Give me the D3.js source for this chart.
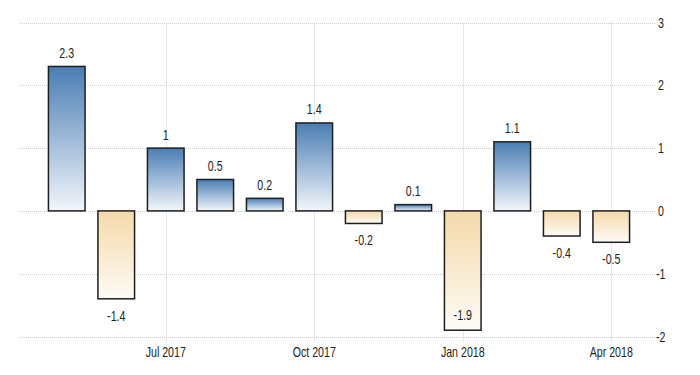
<!DOCTYPE html>
<html>
<head>
<meta charset="utf-8">
<script src="https://cdn.jsdelivr.net/npm/d3@7"></script>
<style>
  body { margin: 0; background: #fff; }
  svg text { font-family: "Liberation Sans", Arial, sans-serif; font-size: 14px; fill: #222; }
</style>
</head>
<body>
<div id="chart"></div>
<script>
var width = 700,
    height = 375,
    squeeze = 0.76; // reference uses a narrow face

// monthly change, May 2017 .. Apr 2018
var months = ['May 2017','Jun 2017','Jul 2017','Aug 2017','Sep 2017','Oct 2017',
              'Nov 2017','Dec 2017','Jan 2018','Feb 2018','Mar 2018','Apr 2018'];
var values = [2.3, -1.4, 1, 0.5, 0.2, 1.4, -0.2, 0.1, -1.9, 1.1, -0.4, -0.5];
var xTickLabels = ['Jul 2017', 'Oct 2017', 'Jan 2018', 'Apr 2018'];
var yTicks = [-2, -1, 0, 1, 2, 3];

var svg = d3.select("#chart").append("svg")
    .attr("width", width)
    .attr("height", height);

var defs = svg.append("defs");
var gradUp = defs.append("linearGradient")
    .attr("id", "gradUp")
    .attr("x1", 0).attr("y1", 0).attr("x2", 0).attr("y2", 1);
gradUp.append("stop").attr("offset", "0%").attr("stop-color", "#4a7db3");
gradUp.append("stop").attr("offset", "100%").attr("stop-color", "#f2f6fb");

var gradDown = defs.append("linearGradient")
    .attr("id", "gradDown")
    .attr("x1", 0).attr("y1", 0).attr("x2", 0).attr("y2", 1);
gradDown.append("stop").attr("offset", "0%").attr("stop-color", "#f4d9a9");
gradDown.append("stop").attr("offset", "100%").attr("stop-color", "#fefbf6");

var x = d3.scaleBand()
    .domain(months)
    .range([42, 636])
    .paddingInner(0.26)
    .paddingOuter(0.13);

var y = d3.scaleLinear()
    .domain([-2, 3])
    .range([336.5, 22.5]);

function place(tx, ty) {
  return "translate(" + tx + "," + ty + ") scale(" + squeeze + ",1)";
}

// horizontal grid
svg.append("g")
  .selectAll("line")
  .data(yTicks)
  .enter().append("line")
    .attr("x1", 20)
    .attr("x2", 655)
    .attr("y1", function(d) { return Math.round(y(d)) + 0.5; })
    .attr("y2", function(d) { return Math.round(y(d)) + 0.5; })
    .attr("stroke", "#cfcfcf")
    .attr("stroke-dasharray", "1,1");

// vertical grid at labelled months
svg.append("g")
  .selectAll("line")
  .data(xTickLabels)
  .enter().append("line")
    .attr("x1", function(d) { return Math.round(x(d) + x.bandwidth() / 2) + 0.5; })
    .attr("x2", function(d) { return Math.round(x(d) + x.bandwidth() / 2) + 0.5; })
    .attr("y1", y(3))
    .attr("y2", y(-2) + 6)
    .attr("stroke", "#cfcfcf")
    .attr("stroke-dasharray", "1,1");

// y axis labels on the right
svg.append("g")
  .selectAll("text")
  .data(yTicks)
  .enter().append("text")
    .attr("transform", function(d) { return place(d < 0 ? 656 : 658, y(d) + 5); })
    .text(function(d) { return d; });

// x axis labels
svg.append("g")
  .selectAll("text")
  .data(xTickLabels)
  .enter().append("text")
    .attr("transform", function(d) { return place(x(d) + x.bandwidth() / 2, 356.5); })
    .attr("text-anchor", "middle")
    .text(function(d) { return d; });

var data = months.map(function(m, i) { return { month: m, value: values[i] }; });

// bars
svg.append("g")
  .selectAll("rect")
  .data(data)
  .enter().append("rect")
    .attr("x", function(d) { return x(d.month); })
    .attr("width", x.bandwidth())
    .attr("y", function(d) { return y(Math.max(0, d.value)); })
    .attr("height", function(d) { return Math.abs(y(d.value) - y(0)); })
    .attr("fill", function(d) { return d.value >= 0 ? "url(#gradUp)" : "url(#gradDown)"; })
    .attr("stroke", "#1e1e1e")
    .attr("stroke-width", 1.5);

// value labels (kept inside the bar when there is no room below)
svg.append("g")
  .selectAll("text")
  .data(data)
  .enter().append("text")
    .attr("transform", function(d) {
      var ty;
      if (d.value >= 0) ty = y(d.value) - 8.5;
      else if (y(d.value) + 22 > y(-2)) ty = y(d.value) - 10;
      else ty = y(d.value) + 22;
      return place(x(d.month) + x.bandwidth() / 2, ty);
    })
    .attr("text-anchor", "middle")
    .text(function(d) { return d.value; });
</script>
</body>
</html>
